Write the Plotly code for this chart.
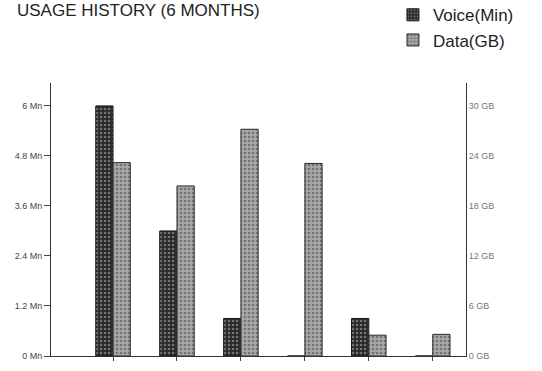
import plotly.graph_objects as go

# Six months of usage
months = ["M1", "M2", "M3", "M4", "M5", "M6"]
voice_mn = [6.0, 3.0, 0.9, 0.0, 0.9, 0.0]          # voice minutes, millions
data_gb = [23.2, 20.4, 27.2, 23.1, 2.5, 2.6]        # data, GB

left_ticks = [0, 1.2, 2.4, 3.6, 4.8, 6]
left_labels = ["0 Mn", "1.2 Mn", "2.4 Mn", "3.6 Mn", "4.8 Mn", "6 Mn"]
right_ticks = [0, 6, 12, 18, 24, 30]
right_labels = ["0 GB", "6 GB", "12 GB", "18 GB", "24 GB", "30 GB"]

BAR_W = 0.27
Y_TOP = 6.55

fig = go.Figure()
fig.add_trace(go.Bar(
    x=list(range(len(months))), y=voice_mn, name="Voice(Min)",
    width=BAR_W, offset=-BAR_W, yaxis="y",
    marker=dict(color="#333333", line=dict(color="#151515", width=1),
                pattern=dict(shape=".", fgcolor="#bdbdbd", bgcolor="#2a2a2a",
                             size=4, solidity=0.3)),
))
fig.add_trace(go.Bar(
    x=list(range(len(months))), y=data_gb, name="Data(GB)",
    width=BAR_W, offset=0, yaxis="y2",
    marker=dict(color="#909090", line=dict(color="#2a2a2a", width=1),
                pattern=dict(shape=".", fgcolor="#3c3c3c", bgcolor="#a8a8a8",
                             size=4, solidity=0.35)),
))

fig.update_layout(
    width=542, height=371,
    margin=dict(l=51, r=76, t=83, b=15, autoexpand=False),
    paper_bgcolor="white", plot_bgcolor="white",
    font=dict(family="Liberation Sans, Arial, sans-serif", color="#222"),
    showlegend=True,
    legend=dict(x=0.824, xanchor="left", y=1.314, yanchor="top",
                font=dict(size=17, color="#222"), bgcolor="rgba(0,0,0,0)",
                tracegroupgap=0, itemwidth=30),
    xaxis=dict(range=[-0.97, 5.52], tickmode="array",
               tickvals=list(range(len(months))), ticktext=[""] * len(months),
               ticks="outside", ticklen=4, tickcolor="#444",
               showline=True, linecolor="#333", linewidth=1,
               showgrid=False, zeroline=False),
    yaxis=dict(range=[0, Y_TOP], tickmode="array", tickvals=left_ticks,
               ticktext=left_labels, ticks="outside", ticklen=6,
               tickcolor="#444", showline=True, linecolor="#333",
               linewidth=1, showgrid=False, zeroline=False,
               tickfont=dict(size=9, color="#444")),
    yaxis2=dict(range=[0, Y_TOP * 5], overlaying="y", side="right",
                tickmode="array", tickvals=right_ticks, ticktext=right_labels,
                ticks="", showline=True, linecolor="#333", linewidth=1,
                showgrid=False, zeroline=False,
                tickfont=dict(size=9, color="#777")),
    annotations=[dict(text="USAGE HISTORY (6 MONTHS)", xref="paper",
                      yref="paper", x=-0.087, xanchor="left",
                      y=1.308, yanchor="top", showarrow=False,
                      font=dict(size=17, color="#222"))],
)

fig.write_html("out.html")
